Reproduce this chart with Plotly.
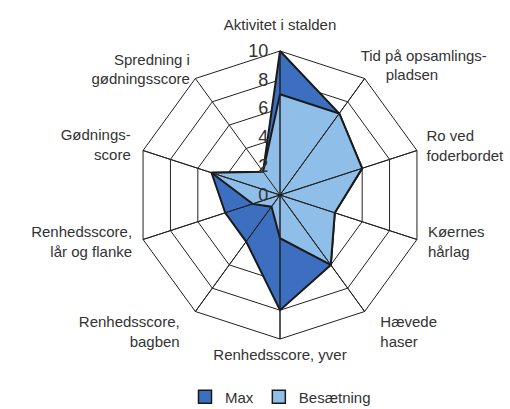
import plotly.graph_objects as go

categories = [
    "Aktivitet i stalden",
    "Tid på opsamlingspladsen",
    "Ro ved foderbordet",
    "Køernes hårlag",
    "Hævede haser",
    "Renhedsscore, yver",
    "Renhedsscore, bagben",
    "Renhedsscore, lår og flanke",
    "Gødningsscore",
    "Spredning i gødningsscore",
]
category_labels = [
    "Aktivitet i stalden",
    "Tid på opsamlings-<br>" + "\u00a0" * 6 + "pladsen",
    "Ro ved<br>foderbordet",
    "Køernes<br>hårlag",
    "Hævede<br>haser",
    "Renhedsscore, yver",
    "Renhedsscore,<br>bagben",
    "Renhedsscore,<br>lår og flanke",
    "Gødnings-<br>score",
    "Spredning i<br>gødningsscore",
]
max_values = [10, 7, 6, 4, 6, 8, 4, 4, 5, 2]
besaetning_values = [7, 7, 6, 4, 6, 3, 1, 2, 5, 2]
radial_ticks = [0, 2, 4, 6, 8, 10]
series_names = ["Max", "Besætning"]
series_colors = ["#3d6fc0", "#8fbfe8"]

# label placement (style only)
label_r = [11.2, 9.53, 10.7, 10.8, 11.85, 10.7, 11.85, 10.8, 10.9, 10.65]
label_pos = ["top center", "top right", "middle right", "middle right", "middle right",
             "bottom center", "middle left", "middle left", "middle left", "middle left"]

r_max = radial_ticks[-1]
view_max = 12  # room for category labels outside the grid

fig = go.Figure()
for name, vals, col in zip(series_names, [max_values, besaetning_values], series_colors):
    fig.add_trace(go.Scatterpolar(
        r=vals + [vals[0]],
        theta=categories + [categories[0]],
        name=name,
        mode="lines",
        fill="toself",
        fillcolor=col,
        line=dict(color="#1a1a1a", width=2),
        showlegend=False,
        hoverinfo="skip",
    ))
# spokes (drawn above the fills)
spoke_r, spoke_t = [], []
for c in categories:
    spoke_r += [0, r_max]
    spoke_t += [c, c]
fig.add_trace(go.Scatterpolar(
    r=spoke_r,
    theta=spoke_t,
    mode="lines",
    line=dict(color="#222222", width=1),
    showlegend=False,
    hoverinfo="skip",
))
# center dot
fig.add_trace(go.Scatterpolar(
    r=[0], theta=[categories[0]], mode="markers",
    marker=dict(color="#1a1a1a", size=5),
    showlegend=False, hoverinfo="skip",
))
# category labels
fig.add_trace(go.Scatterpolar(
    r=label_r,
    theta=categories,
    mode="text",
    text=category_labels,
    textposition=label_pos,
    textfont=dict(size=15, color="#333333"),
    cliponaxis=False,
    showlegend=False,
    hoverinfo="skip",
))
# legend entries (square swatches)
for name, col in zip(series_names, series_colors):
    fig.add_trace(go.Scatterpolar(
        r=[None],
        theta=[categories[0]],
        name=name,
        mode="markers",
        marker=dict(symbol="square", size=13, color=col, line=dict(color="#1a1a1a", width=1.5)),
        showlegend=True,
    ))

R_px = 144 * view_max / r_max
cx, cy = 280, 195
fig.update_layout(
    width=510,
    height=409,
    paper_bgcolor="white",
    plot_bgcolor="white",
    margin=dict(l=0, r=0, t=0, b=0, autoexpand=False),
    font=dict(family="Liberation Sans, Arial, sans-serif", size=15, color="#333333"),
    polar=dict(
        domain=dict(
            x=[(cx - R_px) / 510, (cx + R_px) / 510],
            y=[(409 - cy - R_px) / 409, (409 - cy + R_px) / 409],
        ),
        bgcolor="rgba(0,0,0,0)",
        gridshape="linear",
        angularaxis=dict(
            direction="clockwise",
            rotation=90,
            showline=False,
            showgrid=False,
            ticks="",
            showticklabels=False,
        ),
        radialaxis=dict(
            range=[0, view_max],
            tickvals=radial_ticks,
            ticktext=[str(v) for v in radial_ticks],
            angle=90,
            tickangle=90,
            side="counterclockwise",
            showline=False,
            showgrid=True,
            gridcolor="#222222",
            gridwidth=1,
            ticks="outside",
            ticklen=5,
            tickcolor="rgba(0,0,0,0)",
            tickfont=dict(size=18, color="#333333"),
            layer="above traces",
        ),
    ),
    showlegend=True,
    legend=dict(
        orientation="h",
        x=0.55,
        xanchor="center",
        y=12 / 409,
        yanchor="middle",
        font=dict(size=15, color="#333333"),
        bgcolor="rgba(0,0,0,0)",
        itemwidth=30,
    ),
)

fig.write_html(
    "out.html",
    config={"displayModeBar": False},
    post_script="document.body.style.margin='0';document.body.style.overflow='hidden';",
)
